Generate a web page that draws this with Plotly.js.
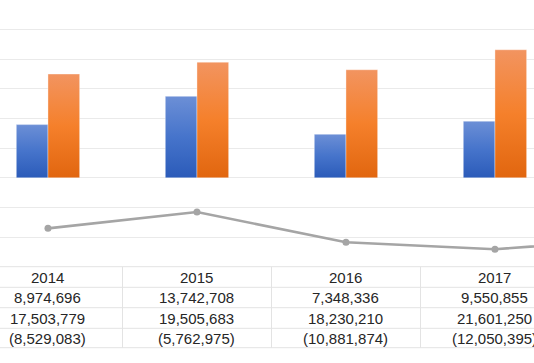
<!DOCTYPE html>
<html>
<head>
<meta charset="utf-8">
<script src="https://cdn.plot.ly/plotly-3.0.1.min.js"></script>
<style>
  html, body { margin: 0; padding: 0; background: #ffffff; }
  #chart { width: 534px; height: 363px; }
</style>
</head>
<body>
<div id="chart"></div>
<script>
// ---- data ----
var years = ['2014', '2015', '2016', '2017', '2018'];
var seriesBlue = [8974696, 13742708, 7348336, 9550855, null];
var seriesOrange = [17503779, 19505683, 18230210, 21601250, null];
var seriesNet = [-8529083, -5762975, -10881874, -12050395, -10200000];
var tableYears = ['2014', '2015', '2016', '2017'];

// ---- styling / layout constants ----
var W = 534, H = 363;
var plotBottomPx = 266.7;
var rowLinesPx = [266.7, 287.3, 307.7, 328.3, 347.7];
var rowTextPx = [277, 297.5, 318, 338];
function py(p) { return 1 - p / H; }

function fmt(v) {
  var s = Math.abs(v).toLocaleString('en-US');
  return v < 0 ? '(' + s + ')' : s;
}

var traces = [
  {
    type: 'bar', x: years, y: seriesBlue, name: 'Blue',
    marker: { color: '#4472C4', line: { color: 'rgba(255,255,255,0.35)', width: 1 } },
    hoverinfo: 'none'
  },
  {
    type: 'bar', x: years, y: seriesOrange, name: 'Orange',
    marker: { color: '#ED7D31', line: { color: 'rgba(255,255,255,0.35)', width: 1 } },
    hoverinfo: 'none'
  },
  {
    type: 'scatter', mode: 'lines+markers', x: years, y: seriesNet, name: 'Net',
    line: { color: '#A5A5A5', width: 2.6 },
    marker: { color: '#A5A5A5', size: 7 },
    hoverinfo: 'none'
  }
];

var shapes = [];
rowLinesPx.forEach(function (p) {
  shapes.push({ type: 'line', xref: 'paper', yref: 'paper', x0: 0, x1: 1, y0: py(p), y1: py(p),
    line: { color: '#E3E3E3', width: 1 } });
});
for (var i = 0; i < tableYears.length - 1; i++) {
  shapes.push({ type: 'line', xref: 'x', yref: 'paper', x0: i + 0.5, x1: i + 0.5,
    y0: py(rowLinesPx[0]), y1: py(rowLinesPx[rowLinesPx.length - 1]),
    line: { color: '#E3E3E3', width: 1 } });
}

var annotations = [];
var rows = [tableYears, seriesBlue, seriesOrange, seriesNet];
rows.forEach(function (row, r) {
  tableYears.forEach(function (yr, c) {
    var v = row[c];
    annotations.push({
      xref: 'x', yref: 'paper', x: c, y: py(rowTextPx[r]),
      text: r === 0 ? v : fmt(v), showarrow: false,
      xanchor: 'center', yanchor: 'middle',
      font: { family: 'Liberation Sans, Arial, sans-serif', size: 15, color: '#262626' }
    });
  });
});

var layout = {
  width: W, height: H,
  margin: { l: 0, r: 0, t: 0, b: 0, pad: 0 },
  paper_bgcolor: '#ffffff', plot_bgcolor: '#ffffff',
  showlegend: false,
  barmode: 'group', bargap: 0.575, bargroupgap: 0,
  xaxis: {
    type: 'category', range: [-0.322, 3.262], showticklabels: false,
    showgrid: false, zeroline: false, showline: false, ticks: ''
  },
  yaxis: {
    domain: [py(plotBottomPx), 1], range: [-15000000, 30000000], dtick: 5000000,
    showticklabels: false, showgrid: true, gridcolor: '#EAEAEA', gridwidth: 1,
    zeroline: true, zerolinecolor: '#EAEAEA', zerolinewidth: 1, showline: false, ticks: ''
  },
  shapes: shapes,
  annotations: annotations
};

Plotly.newPlot('chart', traces, layout, { staticPlot: true, displayModeBar: false }).then(function (gd) {
  var NS = 'http://www.w3.org/2000/svg';
  var svg = gd.querySelector('.main-svg');
  var defs = svg.querySelector('defs');
  if (!defs) { defs = document.createElementNS(NS, 'defs'); svg.insertBefore(defs, svg.firstChild); }
  var grads = [
    ['gradBlue', [[0, '#6C8FD6'], [0.5, '#4674CB'], [1, '#2B5BB9']]],
    ['gradOrange', [[0, '#F29460'], [0.5, '#F5802B'], [1, '#E1660F']]]
  ];
  grads.forEach(function (g) {
    var lg = document.createElementNS(NS, 'linearGradient');
    lg.setAttribute('id', g[0]);
    lg.setAttribute('x1', '0'); lg.setAttribute('y1', '0');
    lg.setAttribute('x2', '0'); lg.setAttribute('y2', '1');
    g[1].forEach(function (s) {
      var st = document.createElementNS(NS, 'stop');
      st.setAttribute('offset', s[0]);
      st.setAttribute('stop-color', s[1]);
      lg.appendChild(st);
    });
    defs.appendChild(lg);
  });
  var barTraces = gd.querySelectorAll('.barlayer .trace');
  barTraces.forEach(function (tr, k) {
    tr.querySelectorAll('path').forEach(function (p) {
      p.style.fill = 'url(#' + grads[k][0] + ')';
    });
  });
});
</script>
</body>
</html>
